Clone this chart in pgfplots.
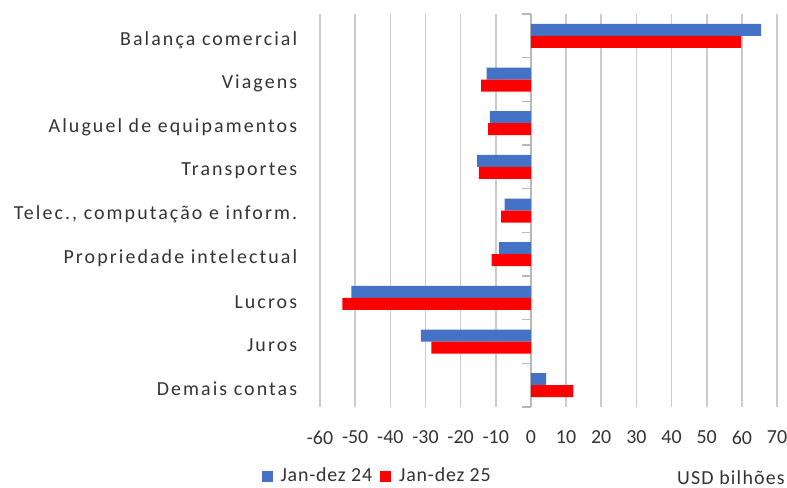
\documentclass[border=0pt]{standalone}
\usepackage{fontspec}
\setmainfont{Carlito}
\usepackage{pgfplots}
\pgfplotsset{compat=1.18}
\definecolor{cblue}{HTML}{4472C4}
\definecolor{cred}{HTML}{FF0000}
\definecolor{cgrid}{HTML}{CCCCCC}
\definecolor{caxis}{HTML}{B8B8B8}
\begin{document}
\fontsize{20}{24}\selectfont
\begin{tikzpicture}
\useasboundingbox (0,0) rectangle (787bp,488bp);
\begin{axis}[
  at={(320bp,81bp)}, anchor=south west,
  scale only axis, width=457bp, height=393bp,
  xmin=-60, xmax=70, ymin=-0.5, ymax=8.5,
  xtick={-60,-50,...,70},
  ytick={0,...,8},
  yticklabels={Demais contas,Juros,Lucros,Propriedade intelectual,{Telec., computação e inform.},Transportes,Aluguel de equipamentos,Viagens,Balança comercial},
  separate axis lines,
  x axis line style={draw=none},
  y axis line style={draw=none},
  major tick length=0pt,
  /pgf/number format/assume math mode=true,
  ticklabel style={font=\fontsize{20}{24}\selectfont, text=black!80},
  xticklabel style={yshift=-17bp},
  yticklabel style={xshift=-16bp, yshift=-4bp, font=\fontsize{20}{24}\selectfont\addfontfeatures{LetterSpace=10.5}},
  xbar, bar width=12bp,
  legend columns=2,
  legend style={draw=none, at={(axis description cs:0.125,-0.176)}, anchor=center,
    font=\fontsize{20}{24}\selectfont\addfontfeatures{LetterSpace=4}, text=black!80, column sep=6bp},
  legend image code/.code={\fill[#1] (0bp,-5.5bp) rectangle (11bp,5.5bp);},
  clip=false,
]
\pgfplotsinvokeforeach{-60,-50,-40,-30,-20,-10,10,20,30,40,50,60,70}{
  \draw[cgrid, line width=1.6bp] (axis cs:#1,-0.5) -- (axis cs:#1,8.5);
}
\draw[caxis, line width=1.6bp] (axis cs:0,-0.5) -- (axis cs:0,8.5);
\pgfplotsinvokeforeach{-0.5,0.5,1.5,2.5,3.5,4.5,5.5,6.5,7.5,8.5}{
  \draw[caxis, line width=1.4bp] (axis cs:0,#1) -- ([xshift=-9bp]axis cs:0,#1);
}
\addplot[fill=cblue, draw=none, bar shift=6bp] coordinates {
  (65.5,8) (-12.6,7) (-11.7,6) (-15.3,5) (-7.5,4) (-9.1,3) (-51.1,2) (-31.3,1) (4.3,0)};
\addlegendentry{Jan-dez 24}
\addplot[fill=cred, draw=none, bar shift=-6bp] coordinates {
  (59.8,8) (-14.2,7) (-12.2,6) (-14.8,5) (-8.5,4) (-11.2,3) (-53.6,2) (-28.3,1) (12.1,0)};
\addlegendentry{Jan-dez 25}
\end{axis}
\node[anchor=base east, inner sep=0pt, text=black!80, font=\fontsize{20}{24}\selectfont\addfontfeatures{LetterSpace=6}] at (785bp,4bp) {USD bilhões};
\end{tikzpicture}
\end{document}
